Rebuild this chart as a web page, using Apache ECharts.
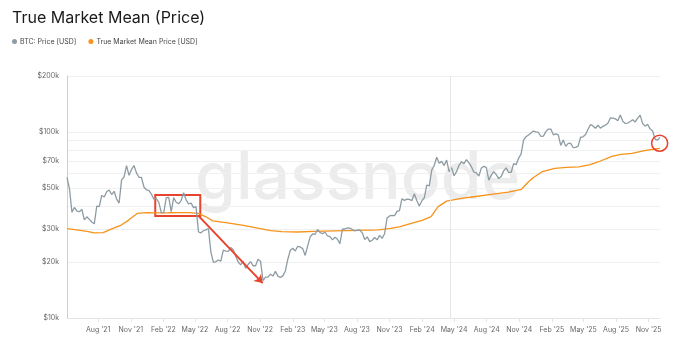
<!DOCTYPE html>
<html>
<head>
<meta charset="utf-8">
<script src="https://cdn.jsdelivr.net/npm/echarts@6/dist/echarts.min.js"></script>
<style>
  html, body { margin: 0; padding: 0; background: #fff; }
  #chart { width: 694px; height: 353px; }
</style>
</head>
<body>
<div id="chart"></div>
<script>
// weekly BTC closes, starting 2021-05-05, one step = 7 days
const btcStart = "2021-05-05";
const btcPrice = [
  // 2021
  57000, 49500, 37000, 39300,
  37500, 37300, 38300, 33700, 35000,
  33900, 32800, 32100, 40000,
  39700, 45600, 44700, 47700,
  48800, 46100, 48000, 43600, 41500,
  55300, 57300, 66000, 58500,
  62900, 66000, 60300, 57100,
  57000, 50600, 48900, 48600, 46400,
  // 2022
  43500, 43900, 41800, 36900,
  36900, 44400, 44500, 37300,
  44400, 41900, 41100, 42800, 47100,
  43200, 41100, 41500, 39200,
  39700, 29000, 28700, 29500,
  29800, 30200, 22600, 19900, 20100,
  20500, 20200, 23200, 22900,
  22800, 23900, 23300, 21500, 20000,
  19300, 20200, 18500, 19400,
  20100, 19100, 19100, 20700,
  20200, 15900, 16600, 16600, 17200,
  16800, 17800, 16800, 16500,
  // 2023
  16850, 17900, 20700, 23100,
  23700, 22900, 24300, 24100,
  23600, 21700, 24400, 27300, 28300,
  28200, 29900, 28800, 28400,
  29000, 27600, 27400, 26300, 27200,
  26500, 25100, 30000, 30100,
  30500, 30400, 29900, 29400,
  29700, 29800, 28700, 26400, 27300,
  25750, 26200, 27100, 26300,
  27800, 26800, 28400, 34500,
  35400, 35600, 35500, 37400, 37800,
  43800, 42900, 43600, 43400,
  // 2024
  42800, 46600, 42700, 40000, 42600,
  44300, 51800, 51300, 62400,
  66100, 73100, 67900, 69500,
  66000, 70600, 61300, 64300,
  58200, 61200, 66200, 69200, 67600,
  71100, 68200, 65000, 60800,
  60200, 57900, 64100, 65400, 64600,
  55100, 58700, 61200, 59000,
  56200, 57600, 61800, 64100,
  60600, 60600, 67600, 66700, 72300,
  76000, 90500, 94300, 96400,
  98800, 101200, 100200, 99400,
  // 2025
  94600, 95000, 100500, 103700, 103700,
  96600, 97800, 96600, 84700,
  90600, 83700, 86800, 86900,
  82500, 82600, 84000, 93700, 94200,
  97000, 103500, 109700, 107800,
  104700, 108700, 104900, 107300,
  108800, 111300, 119000, 118700, 117800,
  114900, 123300, 114200, 111200,
  111700, 113900, 116400, 113300,
  118600, 123300, 111000, 107500, 110000,
  103900, 101600, 91500, 90500,
  93500
];

const tmmDates = [
  "2021-05-05", "2021-06-01", "2021-07-01", "2021-07-20", "2021-08-15", "2021-09-10",
  "2021-10-05", "2021-10-25", "2021-11-19", "2021-12-15", "2022-01-15", "2022-02-15",
  "2022-03-15", "2022-04-15", "2022-05-10", "2022-06-01", "2022-06-20", "2022-08-01",
  "2022-09-15", "2022-11-01", "2022-12-01", "2023-01-01", "2023-02-15", "2023-04-01",
  "2023-06-01", "2023-08-01", "2023-10-01", "2023-11-05", "2023-12-01", "2024-01-01",
  "2024-02-01", "2024-02-26", "2024-03-17", "2024-04-10", "2024-05-21", "2024-07-01",
  "2024-08-14", "2024-10-01", "2024-11-07", "2024-11-25", "2024-12-10", "2025-01-03",
  "2025-02-09", "2025-03-15", "2025-04-18", "2025-05-20", "2025-06-13", "2025-07-20",
  "2025-08-15", "2025-09-15", "2025-10-20", "2025-11-19", "2025-12-03"
];
const tmmValue = [
  30200, 29800, 29200, 28700, 28800, 30200,
  31600, 33500, 36500, 36900, 36700, 36800,
  36900, 36900, 36500, 35000, 33300, 32500,
  31500, 30200, 29500, 29100, 29000, 29200,
  29400, 29600, 29800, 30300, 31000, 32300,
  33500, 35100, 39700, 42500, 44000, 45000,
  46200, 47500, 49200, 53500, 56800, 61000,
  63800, 64600, 65000, 66800, 69200, 74000,
  75800, 76800, 79300, 81000, 81700
];

const xTickDates = [
  "2021-08-01", "2021-11-01", "2022-02-01", "2022-05-01", "2022-08-01", "2022-11-01",
  "2023-02-01", "2023-05-01", "2023-08-01", "2023-11-01", "2024-02-01", "2024-05-01",
  "2024-08-01", "2024-11-01", "2025-02-01", "2025-05-01", "2025-08-01", "2025-11-01"
];
const yLabelValues = [10000, 20000, 30000, 50000, 70000, 100000, 200000];
const yGridValues = [10000, 20000, 30000, 40000, 50000, 60000, 70000, 80000, 90000, 100000, 200000];

// annotations (date, price)
const boxCorners = [["2022-01-09", 45800], ["2022-05-16", 35400]];
const arrowEnds = [["2022-05-11", 35400], ["2022-11-08", 15400]];
const circleAt = ["2025-12-02", 87000];
const halvingDate = "2024-04-20";

const DAY = 86400000;
const ts = s => { const p = s.split("-").map(Number); return Date.UTC(p[0], p[1] - 1, p[2]); };
const MONTHS = ["Jan", "Feb", "Mar", "Apr", "May", "Jun", "Jul", "Aug", "Sep", "Oct", "Nov", "Dec"];

const btcData = btcPrice.map((v, i) => [ts(btcStart) + i * 7 * DAY, v]);
const tmmData = tmmDates.map((d, i) => [ts(d), tmmValue[i]]);
const xTicks = xTickDates.map(ts);

const red = "#e8432d";
const chart = echarts.init(document.getElementById("chart"));
chart.setOption({
  animation: false,
  textStyle: { fontFamily: "Inter, 'Noto Sans', sans-serif" },
  title: {
    text: "True Market Mean (Price)",
    left: 12, top: 10, padding: 0,
    textStyle: { fontSize: 16, fontWeight: "normal", color: "#1a1a1a" }
  },
  legend: {
    left: 12, top: 38, padding: 0,
    icon: "circle", itemWidth: 5, itemHeight: 5, itemGap: 12,
    textStyle: { fontSize: 7, color: "#444", padding: [0, 0, 0, -2] },
    data: ["BTC: Price [USD]", "True Market Mean Price [USD]"]
  },
  graphic: [{
    type: "text", left: 195, top: 146, z: -10, silent: true,
    style: { text: "glassnode", fontSize: 66, fontFamily: "Inter", fontWeight: 500, fill: "#ececec" }
  }],
  grid: { left: 67, right: 34, top: 76, bottom: 35 },
  xAxis: {
    type: "value",
    min: ts(btcStart), max: btcData[btcData.length - 1][0],
    axisLine: { lineStyle: { color: "#e4e4e4" } },
    axisTick: { show: true, customValues: xTicks, length: 4, lineStyle: { color: "#e4e4e4" } },
    axisLabel: {
      customValues: xTicks, fontSize: 7, color: "#666", margin: 8,
      formatter: v => { const d = new Date(v); return MONTHS[d.getUTCMonth()] + " '" + String(d.getUTCFullYear()).slice(2); }
    },
    splitLine: { show: false }
  },
  yAxis: {
    type: "log", logBase: 10, min: 10000, max: 200000,
    axisLine: { show: true, lineStyle: { color: "#cfcfcf" } },
    axisTick: { show: false, customValues: yGridValues },
    axisLabel: { customValues: yLabelValues, fontSize: 7, color: "#666", margin: 8, formatter: v => "$" + Math.round(v / 1000) + "k" },
    splitLine: { show: true, lineStyle: { color: "#f0f0f0" } }
  },
  series: [
    {
      name: "BTC: Price [USD]", type: "line", data: btcData, showSymbol: false, symbol: "none",
      color: "#8d9ca3", lineStyle: { width: 1.3, color: "#8d9ca3" }, z: 3,
      markArea: {
        silent: true,
        itemStyle: { color: "rgba(0,0,0,0)", borderColor: red, borderWidth: 2 },
        data: [[
          { coord: [ts(boxCorners[0][0]), boxCorners[0][1]] },
          { coord: [ts(boxCorners[1][0]), boxCorners[1][1]] }
        ]]
      },
      markLine: {
        silent: true, symbol: ["none", "arrow"], symbolSize: 8,
        lineStyle: { color: red, width: 2, type: "solid" }, label: { show: false },
        data: [[
          { coord: [ts(arrowEnds[0][0]), arrowEnds[0][1]] },
          { coord: [ts(arrowEnds[1][0]), arrowEnds[1][1]] }
        ]]
      },
      markPoint: {
        silent: true, symbol: "circle", symbolSize: 16,
        itemStyle: { color: "rgba(0,0,0,0)", borderColor: red, borderWidth: 1.5 },
        label: { show: false },
        data: [{ coord: [ts(circleAt[0]), circleAt[1]] }]
      }
    },
    {
      name: "True Market Mean Price [USD]", type: "line", data: tmmData, showSymbol: false, symbol: "none",
      color: "#f7931a", lineStyle: { width: 1.3, color: "#f7931a" }, z: 2,
      markLine: {
        silent: true, symbol: "none", label: { show: false },
        lineStyle: { color: "#e6e6e6", width: 1, type: "solid" },
        data: [{ xAxis: ts(halvingDate) }]
      }
    }
  ]
});
</script>
</body>
</html>
